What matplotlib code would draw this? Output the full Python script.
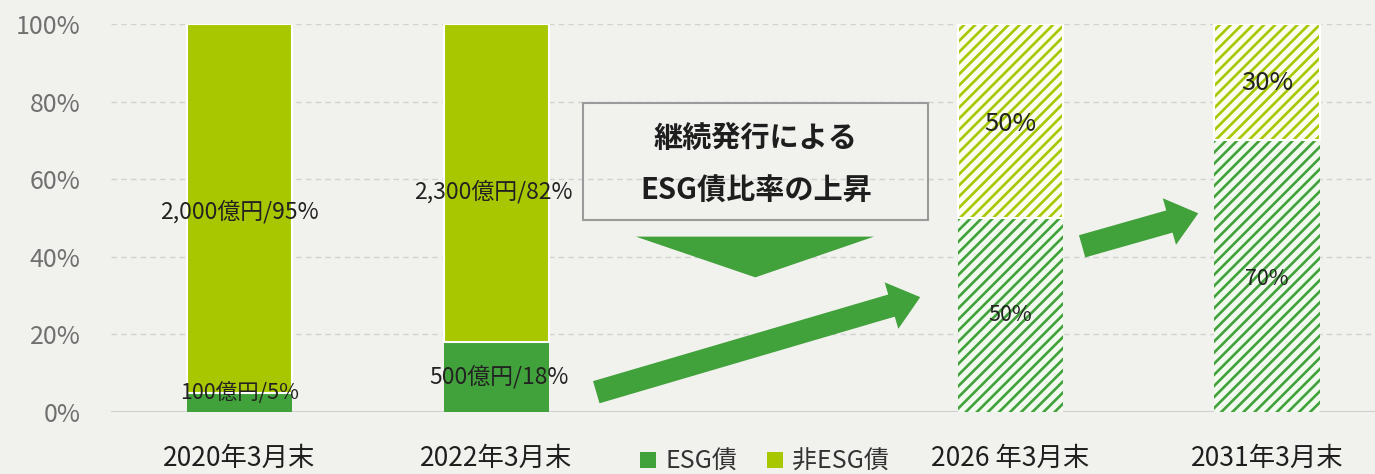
import matplotlib
matplotlib.use("Agg")
import matplotlib.pyplot as plt
from matplotlib.patches import FancyArrowPatch, Polygon, Rectangle, Patch

plt.rcParams['font.family'] = ['Noto Sans CJK JP', 'DejaVu Sans']
plt.rcParams['hatch.linewidth'] = 1.9

# ---- data ----
categories = ['2020年3月末', '2022年3月末', '2026 年3月末', '2031年3月末']
esg_pct = [5, 18, 50, 70]
non_esg_pct = [95, 82, 50, 30]
esg_labels = ['100億円/5%', '500億円/18%', '50%', '70%']
non_esg_labels = ['2,000億円/95%', '2,300億円/82%', '50%', '30%']
projected = [False, False, True, True]
yticks = [0, 20, 40, 60, 80, 100]
legend_labels = ['ESG債', '非ESG債']
box_lines = ['継続発行による', 'ESG債比率の上昇']

# ---- style ----
BG = '#F1F1EE'
GREEN = '#41A13A'
LIME = '#A9C700'
slots = [0, 1, 3, 4]          # slot 2 is left empty (legend / annotation area)
bar_w = 0.41

fig = plt.figure(figsize=(13.75, 4.74), dpi=100, facecolor=BG)
ax = fig.add_axes([0.0807, 0.1308, 0.9193, 0.8186])
ax.set_facecolor(BG)

for i, x in enumerate(slots):
    if projected[i]:
        ax.bar(x, esg_pct[i], bar_w, color='#F2F9EE', edgecolor=GREEN,
               hatch='///', linewidth=0, zorder=2)
        ax.bar(x, non_esg_pct[i], bar_w, bottom=esg_pct[i], color='#FAFCEF',
               edgecolor=LIME, hatch='///', linewidth=0, zorder=2)
        ax.bar(x, non_esg_pct[i], bar_w, bottom=esg_pct[i], fill=False,
               edgecolor='white', linewidth=1.5, zorder=3)
    else:
        ax.bar(x, esg_pct[i], bar_w, color=GREEN, edgecolor='none', zorder=2)
        ax.bar(x, non_esg_pct[i], bar_w, bottom=esg_pct[i], color=LIME,
               edgecolor='white', linewidth=1.5, zorder=2)

# bar labels
lbl_kw = dict(ha='center', va='center', color='#222222', zorder=5)
offs_esg = [(0.0, 2.3, 15.5), (0.01, 0.0, 16.5), (0.0, 0.0, 15.5), (0.0, -0.6, 15.5)]
offs_non = [(0.0, -0.8, 16.5), (-0.01, -2.2, 16.5), (0.0, -0.7, 18.5), (0.0, -0.2, 18.5)]
for i, x in enumerate(slots):
    dx, dy, fs = offs_esg[i]
    ax.text(x + dx, esg_pct[i] / 2 + dy, esg_labels[i], fontsize=fs, **lbl_kw)
    dx, dy, fs = offs_non[i]
    ax.text(x + dx, esg_pct[i] + non_esg_pct[i] / 2 + dy, non_esg_labels[i],
            fontsize=fs, **lbl_kw)

# axes styling
ax.set_xlim(-0.5, 4.42)
ax.set_ylim(0, 100)
ax.set_yticks(yticks)
ax.set_yticklabels([f'{v}%' for v in yticks])
ax.set_xticks(slots)
ax.set_xticklabels(categories)
ax.tick_params(axis='y', length=0, pad=22, labelsize=18, labelcolor='#707070')
ax.tick_params(axis='x', length=0, pad=24, labelsize=19, labelcolor='#1E1E1E')
for s in ax.spines.values():
    s.set_visible(False)
for v in yticks[1:]:
    ax.axhline(v, color='#D2D2D0', linewidth=1.0, linestyle=(0, (4, 3)), zorder=1)
ax.axhline(0, color='#CFCFD2', linewidth=1.5, zorder=1)

# annotation box
ax.add_patch(Rectangle((1.339, 49.4), 2.681 - 1.339, 79.7 - 49.4, fill=False,
                       edgecolor='#9A9A9A', linewidth=1.5, zorder=4))
ax.text(2.01, 70.7, box_lines[0], ha='center', va='center', fontsize=21,
        fontweight='bold', color='#1E1E1E', zorder=5)
ax.text(2.01, 57.1, box_lines[1], ha='center', va='center', fontsize=21,
        fontweight='bold', color='#1E1E1E', zorder=5)

# downward triangle
ax.add_patch(Polygon([(1.543, 45.2), (2.47, 45.2), (2.008, 34.7)], closed=True,
                     facecolor=GREEN, edgecolor='none', zorder=4))

# arrows
arr_style = 'simple,head_length=1.3,head_width=2.1,tail_width=1.0'
for tail, tip in [((1.389, 5.1), (2.650, 29.6)), ((3.280, 42.7), (3.732, 51.2))]:
    ax.add_patch(FancyArrowPatch(tail, tip, arrowstyle=arr_style, mutation_scale=16.6,
                                 color=GREEN, shrinkA=0, shrinkB=0, linewidth=0,
                                 zorder=4))

# legend
handles = [Patch(facecolor=GREEN, edgecolor='none'),
           Patch(facecolor=LIME, edgecolor='none')]
fig.legend(handles, legend_labels, loc='center', bbox_to_anchor=(0.556, 0.026),
           ncol=2, frameon=False, fontsize=18, handlelength=0.65, handleheight=0.65,
           handletextpad=0.35, columnspacing=1.2, labelcolor='#333333')

fig.savefig('out.png', dpi=100, facecolor=BG)
